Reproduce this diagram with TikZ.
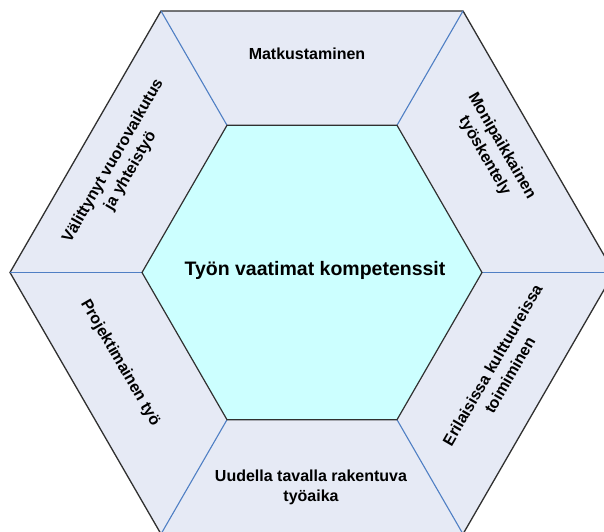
\documentclass[tikz,border=0pt]{standalone}
\usepackage{fontspec}
\setmainfont{Liberation Sans}
\definecolor{outerfill}{HTML}{E6EAF5}
\definecolor{innerfill}{HTML}{CCFFFF}
\definecolor{spokeblue}{HTML}{4F7FC4}
\definecolor{edgedark}{HTML}{303030}
\begin{document}
\begin{tikzpicture}[x=1pt,y=1pt,
  lbl/.style={font=\fontsize{16}{20}\selectfont\bfseries, align=center, text=black, inner sep=0pt},
  spoke/.style={draw=spokeblue, line width=1.1pt},
  outerhex/.style={fill=outerfill, draw=edgedark, line width=1.3pt, line join=miter},
  innerhex/.style={fill=innerfill, draw=edgedark, line width=1.2pt}]
\useasboundingbox (0,0) rectangle (604,531);
\clip (0,0) rectangle (604,531);
\fill[white] (0,0) rectangle (604,531);
\coordinate (c) at (312,258.5);
\foreach \k in {0,...,5} {
  \path (c) ++(\k*60:302) coordinate (o\k);
  \path (c) ++(\k*60:170) coordinate (i\k);
}
\path[outerhex] (o0) -- (o1) -- (o2) -- (o3) -- (o4) -- (o5) -- cycle;
\foreach \k in {0,...,5} { \draw[spoke] (i\k) -- (o\k); }
\path[innerhex] (i0) -- (i1) -- (i2) -- (i3) -- (i4) -- (i5) -- cycle;
\node[lbl] (top) at (307,477) {Matkustaminen};
\node[lbl] (bottom) at (311,44) {Uudella tavalla rakentuva\\työaika};
\node[lbl, rotate=60] (ul) at (122,365) {Välittynyt vuorovaikutus\\ja yhteistyö};
\node[lbl, rotate=-60] (ur) at (493,380) {Monipaikkainen\\työskentely};
\node[lbl, rotate=-60] (ll) at (120,168) {Projektimainen työ};
\node[lbl, rotate=60] (lr) at (501,161) {Erilaisissa kulttuureissa\\toimiminen};
\node[font=\fontsize{19.5}{23}\selectfont\bfseries, inner sep=0pt] (center) at (315,261) {Työn vaatimat kompetenssit};
\end{tikzpicture}
\end{document}
